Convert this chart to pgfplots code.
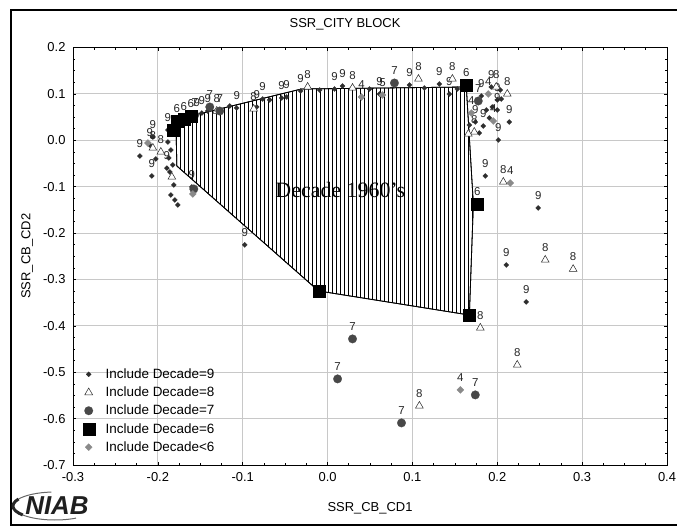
\documentclass[border=0pt]{standalone}
\usepackage{fontspec}
\setmainfont{Liberation Sans}
\newfontfamily\serifface{Liberation Serif}
\usepackage{pgfplots}
\pgfplotsset{compat=1.18}
\usepackage{pgfplotstable}
\usetikzlibrary{patterns.meta}

\definecolor{dnine}{HTML}{2E2E2E}
\definecolor{dseven}{HTML}{484848}
\definecolor{dfive}{HTML}{8A8A8A}
\definecolor{gridgray}{HTML}{C8C8C8}

% Decade 9 (labelled points)
\pgfplotstableread{
x y
-0.2212 -0.0338
-0.2071 -0.0769
-0.0976 -0.2256
0.1859 -0.0769
0.2141 0.0394
0.2012 0.0006
0.2482 -0.1459
0.2106 -0.2688
0.2341 -0.3485
-0.2094 -0.0101
-0.2059 0.0071
-0.1882 0.0222
-0.1894 -0.0600
-0.1600 -0.1005
-0.1541 0.0545
-0.1482 0.0588
-0.1412 0.0631
-0.1071 0.0696
-0.0835 0.0718
-0.0765 0.0890
-0.0541 0.0912
-0.0482 0.0933
-0.0318 0.1062
0.0082 0.1106
0.0176 0.1170
0.0612 0.0998
0.0965 0.1192
0.1318 0.1213
0.1435 0.0998
0.1812 0.0955
0.1741 0.0394
0.1835 0.0308
0.2000 0.0869
0.2000 0.0653
0.1929 0.1148
}\decnine
% Decade 9 (points whose labels are hidden in the crowd)
\pgfplotstableread{
x y
-0.2024 -0.0403
-0.1882 -0.0037
-0.1847 -0.0209
-0.1871 -0.0381
-0.1824 -0.0532
-0.1859 -0.0683
-0.1812 -0.0963
-0.1847 -0.1179
-0.1800 -0.1287
-0.1765 -0.1394
-0.1153 0.0739
-0.0682 0.0869
-0.0094 0.1084
0.0494 0.1106
0.1141 0.1127
0.1529 0.1106
0.1871 0.0653
0.1941 0.0718
0.2047 0.0890
0.2035 0.1084
0.1671 0.0330
0.1906 0.0481
0.1788 0.0157
}\decninehidden
% Decade 8
\pgfplotstableread{
x y
0.2118 0.0998
0.2071 -0.0899
0.2565 -0.2580
0.2894 -0.2778
0.1800 -0.4045
0.2235 -0.4843
0.1082 -0.5726
-0.2059 -0.0166
-0.1965 -0.0252
0.1071 0.1321
0.1729 0.0179
-0.1306 0.0631
-0.0871 0.0675
-0.0235 0.1149
0.0294 0.1127
0.1471 0.1321
0.1988 0.1149
}\deceight
\pgfplotstableread{
x y
-0.1835 -0.0791
0.1659 0.0136
}\deceighthidden
% Decade 7
\pgfplotstableread{
x y
0.0294 -0.4282
0.0118 -0.5144
0.0871 -0.6093
0.1741 -0.5489
0.0788 0.1235
0.1776 0.0847
-0.1565 0.0545
-0.1388 0.0718
-0.1271 0.0631
}\decseven
\pgfplotstableread{
x y
-0.1576 -0.1050
}\decsevenhidden
% Decade 6
\pgfplotstableread{
x y
-0.1776 0.0416
-0.1694 0.0457
-0.1612 0.0523
0.1635 0.1192
0.1765 -0.1373
}\decsix
\pgfplotstableread{
x y
-0.1824 0.0222
0.1671 -0.3764
-0.0106 -0.3248
}\decsixhidden
% Decades before 6 (label = decade)
\pgfplotstableread{
x y lbl
0.1565 -0.5381 4
0.2153 -0.0921 4
0.1953 0.0416 4
0.0400 0.0933 4
0.0647 0.0976 5
0.1694 0.0588 4
0.1894 0.0998 4
}\decfive
\pgfplotstableread{
x y
-0.2118 -0.0058
-0.1588 -0.1157
}\decfivehidden

\pgfplotsset{
  d9/.style={only marks, mark=square*, mark size=1.8bp,
    mark options={rotate=45, fill=dnine, draw=dnine, line width=0.2bp}},
  d8/.style={only marks, mark=triangle*, mark size=4.5bp,
    mark options={fill=white, draw=black!85, line width=0.5bp}},
  d7/.style={only marks, mark=*, mark size=4.3bp,
    mark options={fill=dseven, draw=dseven, line width=0.2bp}},
  d6/.style={only marks, mark=square*, mark size=6bp,
    mark options={fill=black, draw=black, line width=0.1bp}},
  d5/.style={only marks, mark=square*, mark size=2.5bp,
    mark options={rotate=45, fill=dfive, draw=dfive, line width=0.2bp}},
  lbl/.style={every node near coord/.append style={
    font=\fontsize{11.5}{11.5}\selectfont, text=black!85,
    anchor=south, inner sep=1bp, yshift=7.3bp}},
}

\begin{document}
\begin{tikzpicture}
\useasboundingbox (0,0) rectangle (677bp,527bp);
\begin{axis}[
  at={(73bp,62bp)}, anchor=south west,
  scale only axis, width=594bp, height=417.5bp,
  xmin=-0.3, xmax=0.4, ymin=-0.7, ymax=0.2,
  xtick={-0.3,-0.2,-0.1,0,0.1,0.2,0.3,0.4},
  ytick={-0.7,-0.6,-0.5,-0.4,-0.3,-0.2,-0.1,0,0.1,0.2},
  minor tick num=3,
  tick align=inside,
  major tick length=3.5bp, minor tick length=2.5bp,
  tick style={black, line width=0.6bp},
  grid=major,
  major grid style={gridgray, line width=0.8bp},
  axis line style={black, line width=0.8bp},
  /pgf/number format/.cd, fixed, fixed zerofill, precision=1, assume math mode=true,
  /pgfplots/.cd,
  ticklabel style={font=\fontsize{13}{14}\selectfont},
  xticklabel style={yshift=-4bp},
  yticklabel style={xshift=-4bp},
  title={SSR\_CITY BLOCK},
  title style={at={(axis description cs:0.458,1.042)}, anchor=center,
    font=\fontsize{13}{14}\selectfont},
  xlabel={SSR\_CB\_CD1},
  xlabel style={at={(axis description cs:0.5,-0.103)}, anchor=center,
    font=\fontsize{13}{14}\selectfont},
  ylabel={SSR\_CB\_CD2},
  ylabel style={at={(axis description cs:-0.0774,0.5)}, anchor=center,
    font=\fontsize{13}{14}\selectfont},
  legend cell align=left,
  legend style={at={(0.016,0.236)}, anchor=north west, draw=none, fill=none,
    inner sep=0pt, font=\fontsize{13.5}{14}\selectfont, row sep=3bp,
    /tikz/every odd column/.append style={column sep=9bp}},
]
% hull of the 1960s decade
\addplot[forget plot, draw=black, line width=0.8bp, preaction={fill=white},
  pattern={Lines[angle=90,distance=4bp,line width=0.9bp]}]
  coordinates {(-0.1788,0.0416) (-0.1612,0.0524) (-0.0306,0.1106) (0.1635,0.1149)
    (0.1718,-0.1373) (0.1671,-0.3767) (-0.0106,-0.3248) (-0.1776,-0.0554)} -- cycle;

\addplot[d9, lbl, nodes near coords={9}] table {\decnine};
\addlegendentry{Include Decade=9}
\addplot[d9, forget plot] table {\decninehidden};

\addplot[d8, lbl, nodes near coords={8}] table {\deceight};
\addlegendentry{Include Decade=8}
\addplot[d8, forget plot] table {\deceighthidden};

\addplot[d7, lbl, nodes near coords={7}] table {\decseven};
\addlegendentry{Include Decade=7}
\addplot[d7, forget plot] table {\decsevenhidden};

\addplot[d6, lbl, nodes near coords={6}] table {\decsix};
\addlegendentry{Include Decade=6}
\addplot[d6, forget plot] table {\decsixhidden};

\addplot[d5, lbl, nodes near coords, point meta=explicit symbolic]
  table[x=x, y=y, meta=lbl] {\decfive};
\addlegendentry{Include Decade<6}
\addplot[d5, forget plot] table {\decfivehidden};

\node[font=\serifface\fontsize{22}{22}\selectfont] at (axis cs:0.015,-0.107) {Decade 1960’s};
\end{axis}

% outer frame
\draw[line width=2.2bp] (690bp,517bp) -- (11bp,517bp) -- (11bp,2bp) -- (690bp,2bp);

% logo
\draw[line width=3bp, black!85] (55bp,21bp) ++(150:42bp and 14bp) arc[start angle=150, end angle=220, x radius=42bp, y radius=14bp];
\draw[line width=1bp, black!60] (55bp,21bp) ++(95:42bp and 14bp) arc[start angle=95, end angle=150, x radius=42bp, y radius=14bp];
\draw[line width=1bp, black!60] (55bp,21bp) ++(220:42bp and 14bp) arc[start angle=220, end angle=300, x radius=42bp, y radius=14bp];
\node[font=\bfseries\itshape\fontsize{26}{26}\selectfont, text=black!88] at (57bp,21bp) {NIAB};
\end{tikzpicture}
\end{document}
